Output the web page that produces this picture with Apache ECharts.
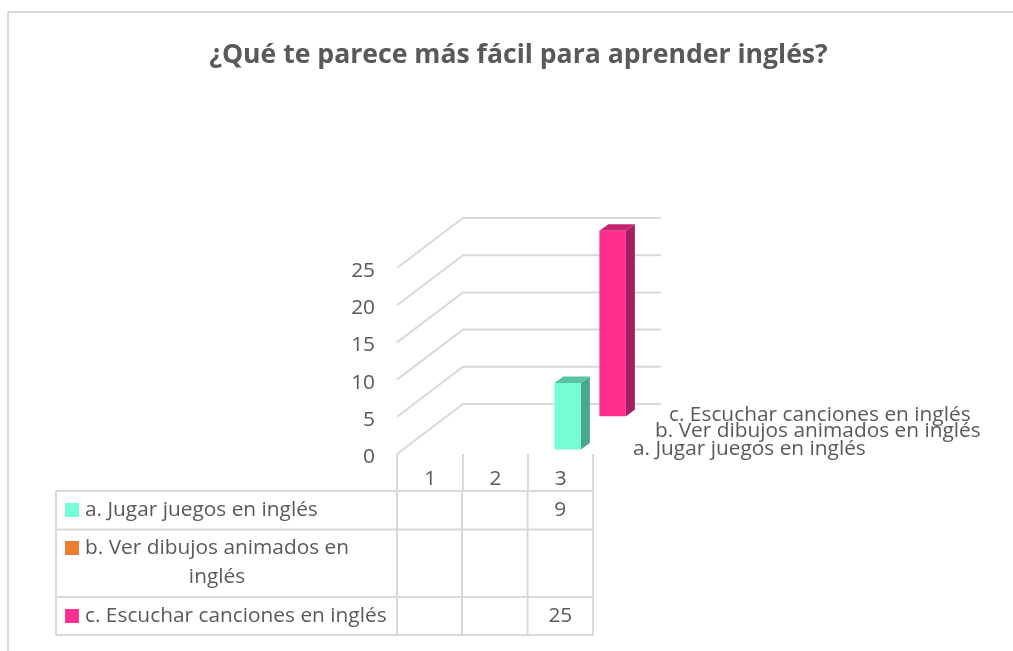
<!DOCTYPE html>
<html><head><meta charset="utf-8">
<style>html,body{margin:0;padding:0;background:#fff}#c{width:1013px;height:651px}</style>
<script src="https://cdn.jsdelivr.net/npm/echarts@6/dist/echarts.min.js"></script>
</head><body><div id="c"></div>
<script>
const titleText = '¿Qué te parece más fácil para aprender inglés?';
const categories = ['1', '2', '3'];
const valueTicks = [0, 5, 10, 15, 20, 25];
const seriesNames = ['a. Jugar juegos en inglés', 'b. Ver dibujos animados en inglés', 'c. Escuchar canciones en inglés'];
const valuesA = [null, null, 9];
const valuesB = [null, null, null];
const valuesC = [null, null, 25];

const FONT = '"Open Sans", sans-serif';
const TXT = '#595959', LINE = '#d9d9d9';
const FS = 20.85;
const DEPTH_X = 66, DEPTH_Y = -50;
const styles = [
  {front:'#76FFD6', top:'#59C4A4', side:'#4CA68B', swatch:'#76FFD6'},
  {front:'#ED7D31', top:'#B55F25', side:'#9A5120', swatch:'#ED7D31'},
  {front:'#FF2E8F', top:'#C4246E', side:'#A51E5D', swatch:'#FF2E8F'}
];
function toData(arr){ return arr.map((v,i)=> v==null ? null : [i,v]).filter(Boolean); }

function gridRender(params, api){
  const cs = params.coordSys, y = api.coord([0, api.value(1)])[1];
  const x0 = cs.x;
  return {type:'polyline', silent:true, shape:{points:[[x0,y],[x0+DEPTH_X,y+DEPTH_Y],[x0+cs.width+DEPTH_X+2,y+DEPTH_Y]]},
    style:{fill:null, stroke:LINE, lineWidth:2}};
}
function barRender(row){
  return function(params, api){
    const c0 = api.coord([api.value(0), 0]), c1 = api.coord([api.value(0), api.value(1)]);
    const w = 26.5, dx = 7.3 + row*22.5, dy = -4.6 - row*16.6, bx = 9, by = -6.5;
    const l = c0[0]-w/2+dx, r = l+w, b = c0[1]+dy, t = c1[1]+dy+0.6;
    const st = styles[row];
    return {type:'group', children:[
      {type:'polygon', shape:{points:[[r,b],[r+bx,b+by],[r+bx,t+by],[r,t]]}, style:{fill:st.side}},
      {type:'polygon', shape:{points:[[l,t],[r,t],[r+bx,t+by],[l+bx,t+by]]}, style:{fill:st.top}},
      {type:'rect', shape:{x:l,y:t,width:w,height:b-t}, style:{fill:st.front}}
    ]};
  };
}
const rowYs = [491, 529.5, 597, 635];
const tableLeft = 56, tableRight = 593;
const colXs = [397, 462, 527.5, 593];
function cellRender(row){
  return function(params, api){
    const x = api.coord([api.value(0), 0])[0];
    return {type:'text', silent:true, style:{x:x, y:(rowYs[row]+rowYs[row+1])/2, text:String(api.value(1)),
      fill:TXT, font:FS+'px '+FONT, textAlign:'center', textVerticalAlign:'middle'}};
  };
}
function txt(x,y,s,align){
  return {type:'text', silent:true, z:5, style:{x:x,y:y,text:s,fill:TXT,font:FS+'px '+FONT,textAlign:align||'left',textVerticalAlign:'middle'}};
}
function ln(x1,y1,x2,y2){
  return {type:'line', silent:true, z:1, shape:{x1,y1,x2,y2}, style:{stroke:LINE,lineWidth:2}};
}
const graphics = [
  ln(8,12,1013,12), ln(8,12,8,651)
];
rowYs.forEach(y=>graphics.push(ln(tableLeft,y,tableRight,y)));
[tableLeft].concat(colXs).forEach(x=>graphics.push(ln(x,rowYs[0],x,rowYs[3])));
[[510,0],[548,1],[616,2]].forEach(([y,i])=>{
  graphics.push({type:'rect', silent:true, z:5, shape:{x:65,y:y-7,width:14,height:14}, style:{fill:styles[i].swatch}});
});
graphics.push(txt(85,510.5,seriesNames[0]));
graphics.push(txt(85,548.5,seriesNames[1].replace(' inglés','')));
graphics.push(txt(217,577.5,'inglés','center'));
graphics.push(txt(85,616.5,seriesNames[2]));
graphics.push(txt(633,449,seriesNames[0]));
graphics.push(txt(655,431,seriesNames[1]));
graphics.push(txt(669,415,seriesNames[2]));

const chart = echarts.init(document.getElementById('c'), null, {renderer:'canvas'});
chart.setOption({
  animation:false,
  backgroundColor:'#fff',
  title:{text:titleText, left:513.5, textAlign:'center', top:37,
    textStyle:{color:TXT, fontFamily:FONT, fontWeight:'bold', fontSize:26.6}},
  grid:{left:397, top:268, width:196, height:186},
  xAxis:{type:'category', data:categories, boundaryGap:true,
    axisLine:{show:false},
    axisTick:{show:true, length:37, lineStyle:{color:LINE, width:2}},
    axisLabel:{color:TXT, fontFamily:FONT, fontSize:FS, margin:15, padding:[0,0,0,1]},
    splitLine:{show:false}},
  yAxis:{type:'value', min:0, max:25, interval:5,
    axisLine:{show:false}, axisTick:{show:false}, splitLine:{show:false},
    axisLabel:{margin:22, formatter:'{t|{value}}',
      rich:{t:{color:TXT, fontFamily:FONT, fontSize:FS, padding:[6,0,0,0]}}}},
  graphic:graphics,
  series:[
    {type:'custom', name:'grid', coordinateSystem:'cartesian2d', clip:false, silent:true, z:1,
      data:valueTicks.map(v=>[0,v]), encode:{x:0,y:1}, renderItem:gridRender},
    {type:'custom', name:seriesNames[2], coordinateSystem:'cartesian2d', clip:false, z:2, data:toData(valuesC), encode:{x:0,y:1}, renderItem:barRender(2)},
    {type:'custom', name:seriesNames[1], coordinateSystem:'cartesian2d', clip:false, z:3, data:toData(valuesB), encode:{x:0,y:1}, renderItem:barRender(1)},
    {type:'custom', name:seriesNames[0], coordinateSystem:'cartesian2d', clip:false, z:4, data:toData(valuesA), encode:{x:0,y:1}, renderItem:barRender(0)},
    {type:'custom', name:'tabla a', coordinateSystem:'cartesian2d', clip:false, silent:true, z:5, data:toData(valuesA), encode:{x:0,y:1}, renderItem:cellRender(0)},
    {type:'custom', name:'tabla c', coordinateSystem:'cartesian2d', clip:false, silent:true, z:5, data:toData(valuesC), encode:{x:0,y:1}, renderItem:cellRender(2)}
  ]
});
</script></body></html>
